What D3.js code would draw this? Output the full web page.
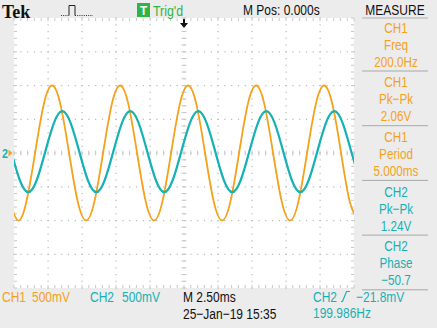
<!DOCTYPE html>
<html><head><meta charset="utf-8">
<script src="https://cdn.jsdelivr.net/npm/d3@7"></script>
<style>
html,body{margin:0;padding:0;background:#ececec;}
svg{display:block;}
text{font-family:"Liberation Sans",Arial,sans-serif;}
</style></head>
<body>
<svg id="scope" width="437" height="328"></svg>
<script>
const ch1Times = [-12.825,-12.2,-11.575,-10.95,-10.325,-9.7,-9.075,-8.45,-7.825,-7.2,-6.575,-5.95,-5.325,-4.7,-4.075,-3.45,-2.825,-2.2,-1.575,-0.95,-0.325,0.3,0.925,1.55,2.175,2.8,3.425,4.05,4.675,5.3,5.925,6.55,7.175,7.8,8.425,9.05,9.675,10.3,10.925,11.55,12.175,12.8];
const ch1Volts = [-0.71,-1.0,-0.71,0,0.71,1.0,0.71,0, -0.71,-1.0,-0.71,0,0.71,1.0,0.71,0, -0.71,-1.0,-0.71,0,0.71,1.0,0.71,0, -0.71,-1.0,-0.71,0,0.71,1.0,0.71,0, -0.71,-1.0,-0.71,0,0.71,1.0,0.71,0, -0.71,-1.0];
const ch2Times = [-12.7,-12.075,-11.45,-10.825,-10.2,-9.575,-8.95,-8.325,-7.7,-7.075,-6.45,-5.825,-5.2,-4.575,-3.95,-3.325,-2.7,-2.075,-1.45,-0.825,-0.2,0.425,1.05,1.675,2.3,2.925,3.55,4.175,4.8,5.425,6.05,6.675,7.3,7.925,8.55,9.175,9.8,10.425,11.05,11.675,12.3,12.925];
const ch2Volts = [0.02,-0.40,-0.58,-0.40,0.02,0.44,0.62,0.44, 0.02,-0.40,-0.58,-0.40,0.02,0.44,0.62,0.44, 0.02,-0.40,-0.58,-0.40,0.02,0.44,0.62,0.44, 0.02,-0.40,-0.58,-0.40,0.02,0.44,0.62,0.44, 0.02,-0.40,-0.58,-0.40,0.02,0.44,0.62,0.44, 0.02,-0.40];
const timeDomain = [-12.5, 12.5];   // ms, 2.50 ms/div x 10 div
const voltDomain = [-2, 2];         // V, 500 mV/div x 8 div
const measureChannels = ["CH1","CH1","CH1","CH2","CH2"];
const measureNames = ["Freq","Pk\u2212Pk","Period","Pk\u2212Pk","Phase"];
const measureValues = ["200.0Hz","2.06V","5.000ms","1.24V","\u221250.7"];

const ORANGE = "#f4a21c", TEAL = "#16b1b4", GREEN = "#2fb446";
const svg = d3.select("#scope");
const L = 14, R = 354, T = 18, B = 288;
const x = d3.scaleLinear().domain(timeDomain).range([L, R]);
const y = d3.scaleLinear().domain(voltDomain).range([B, T]);

// narrow text helper (horizontal squeeze, like the scope's condensed font)
function txt(px, py, s, col, size, opts = {}) {
  const sx = opts.sx || 0.8;
  const t = svg.append("text")
    .attr("transform", `translate(${px},${py}) scale(${sx},1)`)
    .attr("fill", col).attr("font-size", size)
    .attr("text-anchor", opts.anchor || "start").text(s);
  if (opts.weight) t.attr("font-weight", opts.weight);
  if (opts.family) t.style("font-family", opts.family);
  return t;
}

// plot background
svg.append("rect").attr("x", L).attr("y", T).attr("width", R - L).attr("height", B - T).attr("fill", "#ffffff");

// grid
const g = svg.append("g");
const majorT = d3.range(-12.5, 12.51, 2.5), majorV = d3.range(-2, 2.01, 0.5);
const minorT = d3.range(-12.5, 12.51, 0.5), minorV = d3.range(-2, 2.01, 0.1);
majorT.slice(1, -1).forEach(t => {
  minorV.forEach(v => g.append("rect").attr("x", x(t) - 0.5).attr("y", y(v) - 0.5).attr("width", 1.2).attr("height", 1.2).attr("fill", "#b8b8b8"));
});
majorV.slice(1, -1).forEach(v => {
  minorT.forEach(t => g.append("rect").attr("x", x(t) - 0.5).attr("y", y(v) - 0.5).attr("width", 1.2).attr("height", 1.2).attr("fill", "#b8b8b8"));
});
// centre and edge tick marks
const tickCol = "#c8c8c8";
minorT.forEach(t => {
  g.append("line").attr("x1", x(t)).attr("x2", x(t)).attr("y1", y(0) - 2.5).attr("y2", y(0) + 2.5).attr("stroke", tickCol);
  g.append("line").attr("x1", x(t)).attr("x2", x(t)).attr("y1", T).attr("y2", T + 3).attr("stroke", tickCol);
  g.append("line").attr("x1", x(t)).attr("x2", x(t)).attr("y1", B - 3).attr("y2", B).attr("stroke", tickCol);
});
minorV.forEach(v => {
  g.append("line").attr("y1", y(v)).attr("y2", y(v)).attr("x1", x(0) - 2.5).attr("x2", x(0) + 2.5).attr("stroke", tickCol);
  g.append("line").attr("y1", y(v)).attr("y2", y(v)).attr("x1", L).attr("x2", L + 3).attr("stroke", tickCol);
  g.append("line").attr("y1", y(v)).attr("y2", y(v)).attr("x1", R - 3).attr("x2", R).attr("stroke", tickCol);
});

// traces
svg.append("clipPath").attr("id", "clip").append("rect").attr("x", L).attr("y", T).attr("width", R - L).attr("height", B - T);
const line = d3.line().x(d => x(d[0])).y(d => y(d[1])).curve(d3.curveNatural);
const traces = svg.append("g").attr("clip-path", "url(#clip)");
traces.append("path").datum(ch1Times.map((t, i) => [t, ch1Volts[i]]))
  .attr("d", line).attr("fill", "none").attr("stroke", ORANGE).attr("stroke-width", 1.8);
traces.append("path").datum(ch2Times.map((t, i) => [t, ch2Volts[i]]))
  .attr("d", line).attr("fill", "none").attr("stroke", TEAL).attr("stroke-width", 2.2);

// trigger position arrow
const cx = x(0);
svg.append("path").attr("d", `M${cx},${T+10} L${cx-4},${T+5} L${cx-1},${T+5} L${cx-1},${T+1} L${cx+1},${T+1} L${cx+1},${T+5} L${cx+4},${T+5} Z`).attr("fill", "#111");
// channel 2 ground marker
txt(2, y(0) + 4.5, "2", TEAL, 12, {weight: "bold", sx: 0.9});
svg.append("path").attr("d", `M8.5,${y(0)-3.5} L12.5,${y(0)} L8.5,${y(0)+3.5} Z`).attr("fill", ORANGE);

// ---- header ----
svg.append("text").attr("x", 2).attr("y", 18).attr("font-weight", "bold").attr("font-size", 18).attr("fill", "#111")
  .style("font-family", "'Liberation Serif','DejaVu Serif',serif").text("Tek");
svg.append("path").attr("d", "M61,15.5 H69").attr("stroke", "#333").attr("stroke-dasharray", "1,1.2");
svg.append("path").attr("d", "M69,15.5 V5.5 H75 V15.5").attr("stroke", "#222").attr("fill", "none").attr("stroke-width", 1);
svg.append("path").attr("d", "M75,15.5 H93").attr("stroke", "#333").attr("stroke-dasharray", "1,1.2");
svg.append("rect").attr("x", 137).attr("y", 3).attr("width", 13).attr("height", 14).attr("fill", GREEN);
txt(143.5, 15, "T", "#fff", 13, {anchor: "middle", weight: "bold", sx: 0.9});
txt(153, 15.5, "Trig'd", GREEN, 15.5);
txt(243, 15, "M Pos: 0.000s", "#111", 15);
txt(395, 15, "MEASURE", "#111", 15, {anchor: "middle"});
svg.append("line").attr("x1", 362).attr("x2", 428).attr("y1", 18).attr("y2", 18).attr("stroke", "#b0b0b0");

// ---- measurement panel ----
const blockTop = 27, blockStep = 54.7;
measureNames.forEach((name, i) => {
  const col = measureChannels[i] === "CH1" ? ORANGE : TEAL;
  const yy = blockTop + i * blockStep;
  [measureChannels[i], name, measureValues[i]].forEach((s, j) => {
    txt(396, yy + j * 17 + 5.5, s, col, 15, {anchor: "middle", sx: 0.78});
  });
  svg.append("line").attr("x1", 362).attr("x2", 428).attr("y1", yy + 44).attr("y2", yy + 44).attr("stroke", "#a8a8a8");
});

// ---- footer ----
const fs = 15;
txt(2, 302, "CH1", ORANGE, fs);
txt(32, 302, "500mV", ORANGE, fs);
txt(90, 302, "CH2", TEAL, fs);
txt(122, 302, "500mV", TEAL, fs);
txt(183, 302, "M 2.50ms", "#111", fs);
txt(183, 319, "25\u2212Jan\u221219 15:35", "#111", fs);
txt(313, 302, "CH2", TEAL, fs);
svg.append("path").attr("d", "M341,301.5 H342.5 L346.5,291.5 H350").attr("stroke", TEAL).attr("fill", "none").attr("stroke-width", 1.2);
txt(356, 302, "\u221221.8mV", TEAL, fs);
txt(313, 318, "199.986Hz", TEAL, fs);
</script>
</body></html>
